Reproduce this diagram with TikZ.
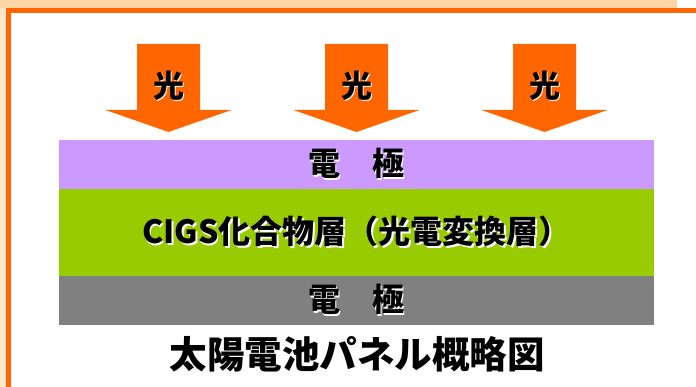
\documentclass[tikz,border=0pt]{standalone}
\usepackage{fontspec}
\setmainfont{Noto Sans CJK JP}
\usetikzlibrary{positioning}

\definecolor{frameorange}{HTML}{FF6600}
\definecolor{peach}{HTML}{FDD6A6}
\definecolor{paleorange}{HTML}{FFE6C8}
\definecolor{electrodetop}{HTML}{CC99FF}
\definecolor{cigsgreen}{HTML}{99CC00}
\definecolor{electrodebottom}{HTML}{808080}

% text with a small white shadow
\newcommand{\shadowed}[1]{\makebox[0pt][l]{\hspace{1.4pt}\raisebox{-1.4pt}{\color{white}#1}}#1}

\tikzset{
  layer/.style={minimum width=595pt, inner sep=0pt, outer sep=0pt,
    font=\fontsize{32}{32}\selectfont\bfseries},
  lightlabel/.style={inner sep=0pt, font=\fontsize{31}{31}\selectfont\bfseries}
}

\begin{document}
\begin{tikzpicture}[x=1pt, y=-1pt]
    \useasboundingbox (0,0) rectangle (696,387);

    % Frame.
    \fill[paleorange] (0,0) rectangle (696,387);
    \fill[peach] (0,0) rectangle (677,8);
    \fill[white] (677,0) rectangle (696,8);
    \fill[frameorange] (6,8) rectangle (696,13);
    \fill[frameorange] (6,8) rectangle (11,387);
    \fill[white] (11,13) rectangle (696,387);

    % Light arrows.
    \foreach \x/\name in {168.5/lighta, 356.5/lightb, 544.5/lightc} {
      \fill[frameorange] (\x-31.5,44) -- (\x+31.5,44) -- (\x+31.5,110)
        -- (\x+63,110) -- (\x,132) -- (\x-63,110) -- (\x-31.5,110) -- cycle;
      \node[lightlabel] (\name) at (\x,86) {\shadowed{光}};
    }

    % Layers.
    \node[layer, fill=electrodetop, minimum height=49pt] (topelectrode) at (356.5,164.5) {\shadowed{電　極}};
    \node[layer, fill=cigsgreen, minimum height=87pt, below=0pt of topelectrode] (cigs) {\shadowed{CIGS化合物層（光電変換層）}};
    \node[layer, fill=electrodebottom, minimum height=49pt, below=0pt of cigs] (bottomelectrode) {\shadowed{電　極}};

    % Caption.
    \node[font=\fontsize{37.5}{37.5}\selectfont\bfseries] (caption) at (357,354) {太陽電池パネル概略図};
\end{tikzpicture}
\end{document}
